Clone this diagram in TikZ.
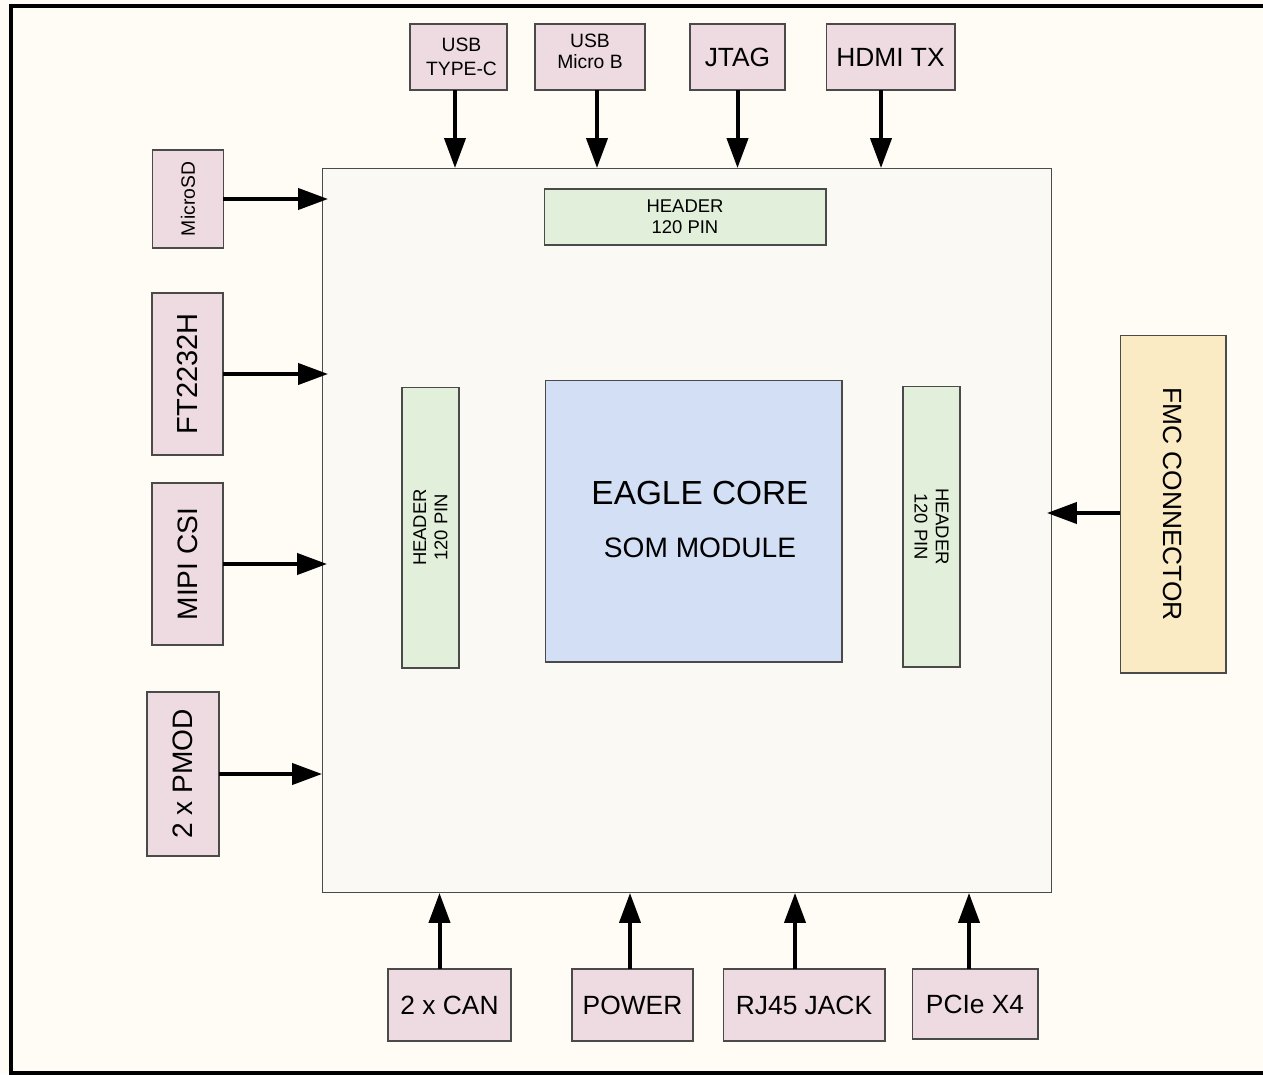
\documentclass[tikz,border=0pt]{standalone}
\usepackage{fontspec}
\setmainfont{Liberation Sans}
\usetikzlibrary{arrows.meta}
\definecolor{bgc}{HTML}{FFFCF6}
\definecolor{boardc}{HTML}{FAF9F4}
\definecolor{pinkc}{HTML}{EEDBE2}
\definecolor{greenc}{HTML}{E2EFDA}
\definecolor{bluec}{HTML}{D3DFF4}
\definecolor{fmcc}{HTML}{FAEBC5}
\definecolor{edgec}{HTML}{4A4A4A}
\newcommand{\fs}[1]{\fontsize{#1}{#1}\selectfont}
\tikzset{
  box/.style={draw=edgec, line width=0.6pt, inner sep=0pt, outer sep=0pt},
  pbox/.style={box, fill=pinkc},
  gbox/.style={box, fill=greenc},
  arr/.style={line width=0.08cm, -{Triangle[length=0.6cm,width=0.42cm]}},
  lbl/.style={inner sep=0pt, align=center, text=black},
}
\begin{document}
\begin{tikzpicture}[x=0.02cm,y=-0.02cm]
\path[use as bounding box, fill=bgc] (0,0) rectangle (1263,1074);
\begin{scope}
\clip (0,0) rectangle (1263,1074);
\draw[line width=0.08cm] (11,6) rectangle (1290,1073);
\end{scope}
% board
\node[box, fill=boardc, minimum width=14.6cm, minimum height=14.5cm] (board) at (687,530.5) {};
% top connectors
\node[pbox, minimum width=1.94cm, minimum height=1.32cm] (usbc) at (458.5,57) {};
\node[lbl, font=\fontsize{11}{14}\selectfont] (usbct) at ([xshift=0.06cm]usbc.center) {USB\\TYPE-C};
\node[pbox, minimum width=2.2cm, minimum height=1.32cm] (usbm) at (590,57) {};
\node[lbl, font=\fontsize{11}{12}\selectfont] (usbmt) at ([yshift=0.12cm]usbm.center) {USB\\Micro B};
\node[pbox, minimum width=1.9cm, minimum height=1.32cm] (jtag) at (737.5,57) {};
\node[lbl, font=\fs{15}] (jtagt) at (jtag) {JTAG};
\node[pbox, minimum width=2.58cm, minimum height=1.32cm] (hdmi) at (890.5,57) {};
\node[lbl, font=\fs{15}] (hdmit) at (hdmi) {HDMI TX};
\draw[arr] ([xshift=-0.07cm]usbc.south) -- ([xshift=-0.07cm]usbc.south |- board.north);
\draw[arr] ([xshift=0.14cm]usbm.south) -- ([xshift=0.14cm]usbm.south |- board.north);
\draw[arr] (jtag.south) -- (jtag.south |- board.north);
\draw[arr] ([xshift=-0.19cm]hdmi.south) -- ([xshift=-0.19cm]hdmi.south |- board.north);
% left connectors
\node[pbox, minimum width=1.42cm, minimum height=1.96cm] (sd) at (188,199) {};
\node[lbl, rotate=90, font=\fs{11}] (sdt) at (sd) {MicroSD};
\node[pbox, minimum width=1.42cm, minimum height=3.24cm] (ft) at (187.5,374) {};
\node[lbl, rotate=90, font=\fs{16.5}] (ftt) at (ft) {FT2232H};
\node[pbox, minimum width=1.42cm, minimum height=3.24cm] (mipi) at (187.5,564) {};
\node[lbl, rotate=90, font=\fs{16}] (mipit) at (mipi) {MIPI CSI};
\node[pbox, minimum width=1.44cm, minimum height=3.28cm] (pmod) at (183,774) {};
\node[lbl, rotate=90, font=\fs{16}] (pmodt) at (pmod) {2 x PMOD};
\draw[arr] (sd.east) -- ([xshift=0.12cm]sd.east -| board.west);
\draw[arr] (ft.east) -- ([xshift=0.12cm]ft.east -| board.west);
\draw[arr] (mipi.east) -- ([xshift=0.1cm]mipi.east -| board.west);
\draw[arr] (pmod.east) -- (pmod.east -| board.west);
% FMC
\node[box, fill=fmcc, minimum width=2.12cm, minimum height=6.76cm] (fmc) at (1173,504) {};
\node[lbl, rotate=-90, font=\fs{15}] (fmct) at (fmc) {FMC CONNECTOR};
\draw[arr] ([yshift=-0.18cm]fmc.west) -- ([yshift=-0.18cm,xshift=-0.1cm]fmc.west -| board.east);
% bottom connectors
\node[pbox, minimum width=2.46cm, minimum height=1.44cm] (can) at (449.5,1005) {};
\node[lbl, font=\fs{15}] (cant) at (can) {2 x CAN};
\node[pbox, minimum width=2.42cm, minimum height=1.44cm] (pwr) at (632.5,1005) {};
\node[lbl, font=\fs{15}] (pwrt) at (pwr) {POWER};
\node[pbox, minimum width=3.24cm, minimum height=1.44cm] (rj) at (804,1005) {};
\node[lbl, font=\fs{15}] (rjt) at (rj) {RJ45 JACK};
\node[pbox, minimum width=2.52cm, minimum height=1.4cm] (pcie) at (975,1004) {};
\node[lbl, font=\fs{15}] (pciet) at (pcie) {PCIe X4};
\draw[arr] ([xshift=-0.2cm]can.north) -- ([xshift=-0.2cm]can.north |- board.south);
\draw[arr] ([xshift=-0.05cm]pwr.north) -- ([xshift=-0.05cm]pwr.north |- board.south);
\draw[arr] ([xshift=-0.18cm]rj.north) -- ([xshift=-0.18cm]rj.north |- board.south);
\draw[arr] ([xshift=-0.12cm]pcie.north) -- ([xshift=-0.12cm]pcie.north |- board.south);
% headers
\node[gbox, minimum width=5.64cm, minimum height=1.12cm] (htop) at (685,217) {};
\node[lbl, font=\fontsize{10.5}{12}\selectfont] (htopt) at (htop) {HEADER\\120 PIN};
\node[gbox, minimum width=1.14cm, minimum height=5.62cm] (hleft) at (430.5,527.5) {};
\node[lbl, rotate=90, font=\fontsize{10.5}{12}\selectfont] (hleftt) at (hleft) {HEADER\\120 PIN};
\node[gbox, minimum width=1.14cm, minimum height=5.62cm] (hright) at (931.5,526.5) {};
\node[lbl, rotate=-90, font=\fontsize{10.5}{12}\selectfont] (hrightt) at (hright) {HEADER\\120 PIN};
% core
\node[box, fill=bluec, minimum width=5.94cm, minimum height=5.64cm] (core) at (693.5,521) {};
\node[lbl, font=\fs{19}] (coret) at (700,493) {EAGLE CORE};
\node[lbl, font=\fs{16}] (cores) at (700,548) {SOM MODULE};
\end{tikzpicture}
\end{document}
